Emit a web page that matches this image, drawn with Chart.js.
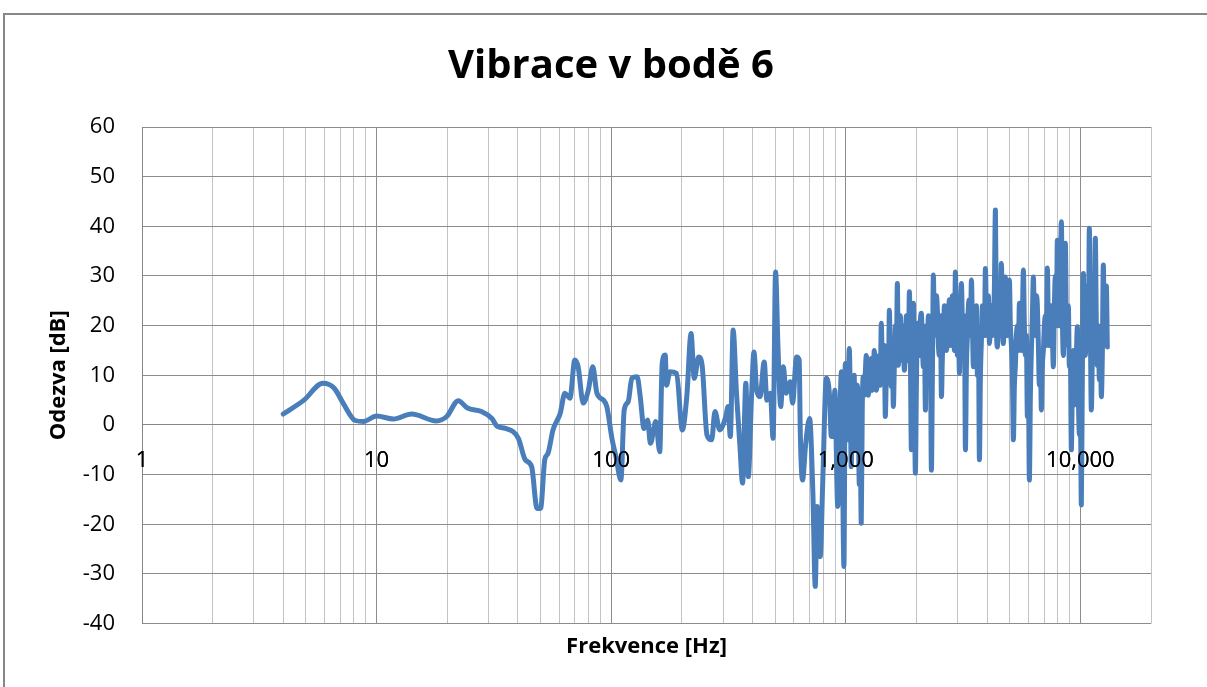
<!DOCTYPE html>
<html><head><meta charset="utf-8">
<script src="https://cdn.jsdelivr.net/npm/chart.js@4.4.1/dist/chart.umd.min.js"></script>
<style>
html,body{margin:0;padding:0;background:#fff;overflow:hidden;width:1207px;height:687px;}
#frame{position:absolute;left:3px;top:13px;width:1300px;height:800px;border-left:2px solid #878787;border-top:2px solid #878787;}
#wrap{position:absolute;left:0;top:0;width:1207px;height:687px;}
</style></head><body>
<div id="frame"></div>
<div id="wrap"><canvas id="c" width="1207" height="687"></canvas></div>
<script>
// Frequency [Hz]
const freqs = [4.0,4.9,5.9,6.6,7.2,8.1,8.8,10.0,11.8,14.1,18.0,19.9,22.3,24.4,28.0,31.0,32.7,35.4,40.2,43.0,
45.8,48.3,50.0,52.1,53.8,56.5,60.6,63.5,66.7,70.0,72.3,76.0,79.9,83.5,86.9,92.7,95.8,101,104.8,110,
113.6,118.2,122.5,129,133,138,143,147,155,161,165,170,172,178,190,201,210,219,226,236,
244,256,268,277,290,308,315,322,331,342,354,363,375,384,397,406,417,431,449,461,
477,490,502,514,528,542,556,580,593,617,633,640,654,675,701,724,741,755,778,798,
826,853,867,885,898,924,958,982,
995,1005,1015,1025,1035,1045,1055,1065,1076,1086,1097,1108,1119,1130,1142,1153,1164,1176,1188,1200,
1211,1223,1235,1247,1260,1272,1285,1297,1310,1323,1336,1350,1363,1376,1390,1403,1417,1431,1446,1460,
1474,1489,1504,1519,1534,1549,1564,1580,1595,1611,1627,1643,1659,1675,1692,1709,1726,1743,1760,1777,
1795,1812,1830,1848,1867,1885,1904,1923,1942,1961,1980,2000,2020,2040,2060,2080,2100,2121,2142,2163,
2185,2206,2228,2250,2272,2294,2317,2340,2363,2386,2410,2434,2458,2482,2507,2532,2557,2582,2607,2633,
2659,2685,2712,2739,2766,2793,2820,2848,2876,2904,2933,2962,2991,3020,3050,3080,3111,3142,3173,3204,
3236,3268,3300,3332,3365,3398,3432,3466,3500,3534,3569,3604,3640,3676,3712,3749,3786,3823,3861,3899,
3937,3976,4015,4055,4095,4135,4176,4217,4259,4301,4343,4386,4429,4473,4517,4561,4606,4652,4698,4744,
4791,4838,4886,4934,4982,5031,5081,5131,5182,5233,5284,5336,5389,5442,5496,5550,5605,5660,5716,5772,
5829,5886,5944,6003,6062,6122,6182,6243,6305,6367,6430,6493,6557,6622,6687,6753,6819,6886,6954,7023,
7092,7162,7232,7304,7376,7449,7522,7596,7671,7747,7823,7900,7978,8057,8136,8216,8297,8379,8461,8545,
8629,8714,8800,8887,8974,9063,9152,9242,9333,9425,9518,9612,9707,9803,9899,9997,10095,10195,10295,10397,
10499,10603,10707,10813,10919,11027,11136,11246,11356,11468,11581,11696,11811,11928,12045,12164,12283,12405,12527,12651,
12775,12901,13028];
// Response [dB]
const values = [2.2,5.0,8.4,7.4,4.4,0.9,0.7,1.8,1.2,2.2,0.8,1.7,4.9,3.4,2.7,1.3,-0.3,-0.7,-2.7,-7.0,
-8.4,-16.8,-16.8,-7.0,-5.7,-1.0,2.3,6.4,5.4,13.1,11.7,4.4,7.0,11.7,6.4,5.0,3.7,-3.0,-6.4,-11.1,
3.0,4.7,9.4,9.7,5.7,-0.7,1.0,-3.7,0.7,-5.4,12.4,14.1,8.0,10.7,10.4,-1.0,5.7,18.4,9.4,13.7,
12.1,-2.0,-3.0,2.7,-1.0,1.7,3.7,-2.3,19.1,6.4,-4.4,-11.7,8.4,-10.4,6.4,14.7,7.0,5.7,12.7,5.0,
6.4,-2.7,30.8,15.7,3.7,11.7,6.4,8.7,4.4,13.7,13.1,-1.7,-11.1,-3.7,1.3,-13.7,-32.5,-16.4,-26.5,-11.1,
9.4,5.7,-2.3,-2.3,7.0,-16.4,10.7,-28.5,
12.4,5,-3,8,15.4,6,-8.4,2,5,10,-5,2,8,3,-12,-6,-19.8,4,9.7,6,
10.4,14,11.7,6,8,12,13.4,7,9.7,15,12,7,9.1,12,14,8,20.5,12,10,16,
1.7,10,15,9,23.1,12,7.7,14,3.7,12,20,14,28.5,12,18,22,13.1,20,17.1,11,
15.1,22,20,13,26.8,14,-5,12,24.5,8,-9.7,8,20.5,16,14,21,22.5,16,11.7,18,
3.0,20,15,22,8,16,-9.1,10,30.2,18,20,26,23.1,16,14,22,5.7,14,18,24,
23.1,15,17,22,25.2,16,20,26,22,15,30.8,20,14,22,10.4,20,28.5,20,15,22,
-5,12,18,24,25.2,18,29.2,20,11.7,22,16.4,24,10,18,-7,10,17.1,24,22,18,
31.5,22,18,26,16.4,20,24,18,20,28,43.3,20,15.7,24,25,18,32.5,20,16.4,24,
29.8,20,18,24,29.2,20,16,10,-3,8,12,18,20,15,24.5,18,15,22,31.2,20,
14,18,1.7,8,-11.1,6,15,22,29.8,20,18,26,24,16,8,14,3.0,12,15,20,
22,16,31.6,20,16,22,24,18,11.7,24,30,20,37.2,22,20,30,40.9,22,14,26,
36.6,20,16,24,11.7,14,-5,8,15,4,8,14,19.8,6,-2,4,-16.1,10,30.5,18,
14,22,28,16,39.6,20,3.0,14,25,18,37.6,20,12,20,9.1,16,5.7,14,32.2,18,
20,28,15.7];
// Axis
const yMin = -40, yMax = 60, yStep = 10;
const xMin = 1, xMax = 20000;
const xGridValues = [1,2,3,4,5,6,7,8,9,10,20,30,40,50,60,70,80,90,100,200,300,400,500,600,700,800,900,1000,2000,3000,4000,5000,6000,7000,8000,9000,10000,20000];
const xTickLabels = {1:'1',10:'10',100:'100',1000:'1,000',10000:'10,000'};

const pts = freqs.map((f,i)=>({x:f,y:values[i]}));
const tickFont = {family:'Open Sans', size:22};
const titleFont = {family:'Open Sans', size:22, weight:'bold', lineHeight:1.2};

const labelsOnTop = {
  id:'labelsOnTop',
  afterDatasetsDraw(chart){ chart.scales.x.drawLabels(chart.chartArea); }
};

new Chart(document.getElementById('c'), {
  type:'line',
  data:{datasets:[{data:pts, borderColor:'#4a7ebb', borderWidth:5, pointRadius:0, fill:false, cubicInterpolationMode:'monotone', borderJoinStyle:'round', borderCapStyle:'round'}]},
  plugins:[labelsOnTop],
  options:{
    responsive:false, animation:false,
    layout:{padding:{left:15,right:0,top:0,bottom:0}},
    plugins:{
      legend:{display:false}, tooltip:{enabled:false},
      title:{display:true,text:'Vibrace v bodě 6',color:'#000',font:{family:'Open Sans',size:40,weight:'bold',lineHeight:1.2},padding:{top:43,bottom:36}}
    },
    scales:{
      x:{type:'logarithmic', position:{y:0}, min:xMin, max:xMax,
         afterBuildTicks:(s)=>{s.ticks = xGridValues.map(v=>({value:v, major:false}));},
         ticks:{autoSkip:false, maxRotation:0, minRotation:0, padding:23, color:'#000', font:tickFont,
                callback:(v)=> xTickLabels[v] !== undefined ? xTickLabels[v] : ''},
         grid:{drawTicks:false, lineWidth:1, color:(ctx)=> (ctx.tick && xTickLabels[ctx.tick.value]!==undefined) ? '#8c8c8c' : '#c3c3c3'},
         border:{display:true, color:'#868686', width:1}
      },
      x2:{axis:'x', type:'linear', position:'bottom', display:true,
         grid:{display:false, drawTicks:false}, ticks:{display:false}, border:{display:false},
         title:{display:true, text:'Frekvence [Hz]', color:'#000', font:titleFont, padding:{top:10,bottom:27}}
      },
      y:{type:'linear', min:yMin, max:yMax,
         ticks:{stepSize:yStep, padding:27, color:'#000', font:tickFont},
         grid:{drawTicks:false, color:'#8c8c8c', lineWidth:1},
         border:{display:true, color:'#868686', width:1},
         title:{display:true, text:'Odezva [dB]', color:'#000', font:titleFont, padding:{top:31,bottom:0}},
         afterFit:(s)=>{s.width = 127;}
      },
      y2:{axis:'y', type:'linear', position:'right', display:true,
         grid:{display:false, drawTicks:false}, ticks:{display:false}, border:{display:false},
         afterFit:(s)=>{s.width = 56;}
      }
    }
  }
});
</script>
</body></html>
